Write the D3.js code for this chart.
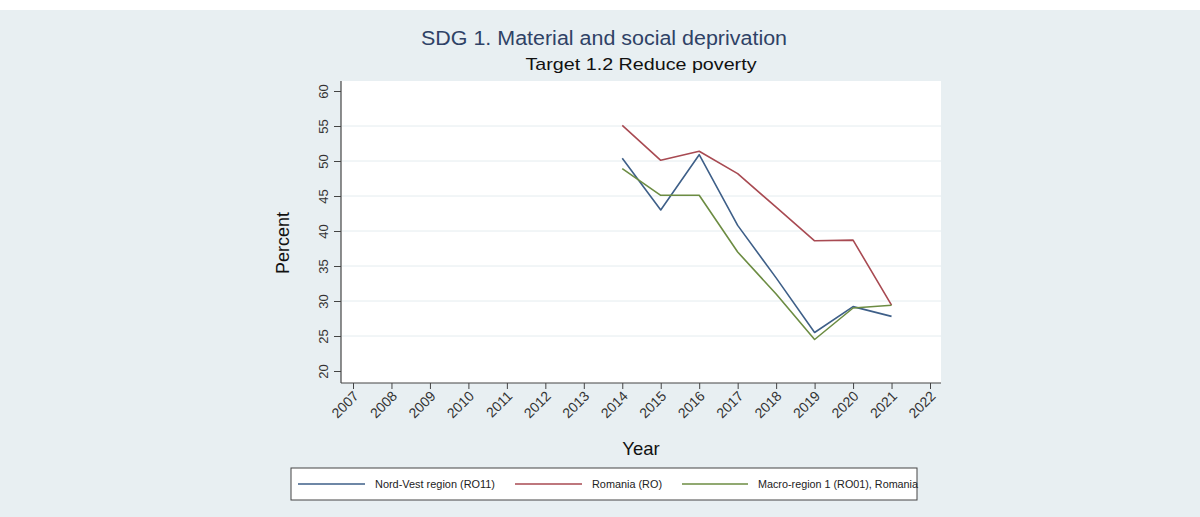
<!DOCTYPE html>
<html>
<head>
<meta charset="utf-8">
<script src="https://cdn.jsdelivr.net/npm/d3@7"></script>
<style>
  html, body { margin: 0; padding: 0; background: #ffffff; }
  svg { display: block; font-family: "Liberation Sans", Arial, sans-serif; }
</style>
</head>
<body>
<svg id="chart" width="1200" height="517"></svg>
<script>
// ---- data ----
const years = [2014, 2015, 2016, 2017, 2018, 2019, 2020, 2021];
const nordVest = [50.4, 43.0, 50.9, 40.8, 33.3, 25.5, 29.2, 27.8];
const romania = [55.1, 50.1, 51.4, 48.2, 43.4, 38.6, 38.7, 29.4];
const macroRegion1 = [48.9, 45.1, 45.1, 37.0, 31.0, 24.5, 29.0, 29.4];
const xTickYears = [2007, 2008, 2009, 2010, 2011, 2012, 2013, 2014, 2015, 2016, 2017, 2018, 2019, 2020, 2021, 2022];
const yTickValues = [20, 25, 30, 35, 40, 45, 50, 55, 60];
const seriesNames = ["Nord-Vest region (RO11)", "Romania (RO)", "Macro-region 1 (RO01), Romania"];
const titleText = "SDG 1. Material and social deprivation";
const subtitleText = "Target 1.2 Reduce poverty";

const series = [
  { name: seriesNames[0], values: nordVest, color: "#3e5f88" },
  { name: seriesNames[1], values: romania, color: "#a84a52" },
  { name: seriesNames[2], values: macroRegion1, color: "#6c8c42" }
];

const svg = d3.select("#chart");
const W = 1200, H = 517;

// background
svg.append("rect").attr("x", 0).attr("y", 0).attr("width", W).attr("height", H).attr("fill", "#e8eff2");
svg.append("rect").attr("x", 0).attr("y", 0).attr("width", W).attr("height", 10).attr("fill", "#ffffff");

// plot region
const plot = { left: 341, right: 941, top: 81, bottom: 383 };
svg.append("rect")
  .attr("x", plot.left).attr("y", plot.top)
  .attr("width", plot.right - plot.left).attr("height", plot.bottom - plot.top)
  .attr("fill", "#ffffff");

const x = d3.scaleLinear().domain([2007, 2022]).range([353, 930]);
const y = d3.scaleLinear().domain([20, 60]).range([371, 91]);

// gridlines
svg.append("g").selectAll("line")
  .data(yTickValues.filter(v => v > 20 && v < 60))
  .join("line")
  .attr("x1", plot.left + 1).attr("x2", plot.right)
  .attr("y1", d => y(d)).attr("y2", d => y(d))
  .attr("stroke", "#e4ecef").attr("stroke-width", 1);

// y axis
const yAxis = svg.append("g")
  .attr("transform", `translate(${plot.left},0)`)
  .call(d3.axisLeft(y).tickValues(yTickValues).tickSize(7).tickPadding(0).tickSizeOuter(0));
yAxis.select(".domain").remove();
yAxis.selectAll(".tick line").attr("stroke", "#444");
yAxis.selectAll(".tick text")
  .attr("font-size", 13)
  .attr("fill", "#333")
  .attr("font-family", "Liberation Sans, Arial, sans-serif")
  .attr("text-anchor", "middle")
  .attr("dy", null)
  .attr("x", null)
  .attr("transform", "translate(-13,0) rotate(-90)");
svg.append("line")
  .attr("x1", plot.left).attr("x2", plot.left)
  .attr("y1", plot.top).attr("y2", plot.bottom)
  .attr("stroke", "#444").attr("stroke-width", 1.2);

// x axis
const xAxis = svg.append("g")
  .attr("transform", `translate(0,${plot.bottom})`)
  .call(d3.axisBottom(x).tickValues(xTickYears).tickFormat(d3.format("d")).tickSize(6).tickSizeOuter(0));
xAxis.select(".domain").remove();
xAxis.selectAll(".tick line").attr("stroke", "#444");
xAxis.selectAll(".tick text")
  .attr("font-size", 14)
  .attr("fill", "#333")
  .attr("font-family", "Liberation Sans, Arial, sans-serif")
  .attr("text-anchor", "end")
  .attr("dy", null)
  .attr("y", null)
  .attr("transform", "translate(6,14) rotate(-45)");
svg.append("line")
  .attr("x1", plot.left).attr("x2", plot.right)
  .attr("y1", plot.bottom).attr("y2", plot.bottom)
  .attr("stroke", "#444").attr("stroke-width", 1.2);

// lines
const line = d3.line().x((d, i) => x(years[i])).y(d => y(d));
svg.append("g").selectAll("path")
  .data(series)
  .join("path")
  .attr("d", d => line(d.values))
  .attr("fill", "none")
  .attr("stroke", d => d.color)
  .attr("stroke-width", 1.6)
  .attr("stroke-linejoin", "round");

// titles
svg.append("text")
  .attr("x", 604).attr("y", 45)
  .attr("text-anchor", "middle")
  .attr("font-size", 20)
  .attr("fill", "#2f4266")
  .attr("textLength", 366)
  .attr("lengthAdjust", "spacingAndGlyphs")
  .text(titleText);
svg.append("text")
  .attr("x", 641).attr("y", 70)
  .attr("text-anchor", "middle")
  .attr("font-size", 17)
  .attr("fill", "#111")
  .attr("textLength", 231)
  .attr("lengthAdjust", "spacingAndGlyphs")
  .text(subtitleText);

// axis titles
svg.append("text")
  .attr("transform", "translate(289,243) rotate(-90)")
  .attr("text-anchor", "middle")
  .attr("font-size", 18)
  .attr("fill", "#111")
  .text("Percent");
svg.append("text")
  .attr("x", 641).attr("y", 455)
  .attr("text-anchor", "middle")
  .attr("font-size", 18.5)
  .attr("fill", "#111")
  .text("Year");

// legend
const legend = svg.append("g");
legend.append("rect")
  .attr("x", 291).attr("y", 468).attr("width", 626).attr("height", 32)
  .attr("fill", "#ffffff").attr("stroke", "#444").attr("stroke-width", 1);
const legendItems = [
  { s: series[0], x1: 298, x2: 365, tx: 375, tw: 120 },
  { s: series[1], x1: 515, x2: 582, tx: 592, tw: 70 },
  { s: series[2], x1: 682, x2: 748, tx: 758, tw: 160 }
];
legendItems.forEach(it => {
  legend.append("line")
    .attr("x1", it.x1).attr("x2", it.x2).attr("y1", 484).attr("y2", 484)
    .attr("stroke", it.s.color).attr("stroke-width", 1.6);
  legend.append("text")
    .attr("x", it.tx).attr("y", 488)
    .attr("font-size", 11)
    .attr("fill", "#222")
    .attr("textLength", it.tw)
    .attr("lengthAdjust", "spacingAndGlyphs")
    .text(it.s.name);
});
</script>
</body>
</html>
